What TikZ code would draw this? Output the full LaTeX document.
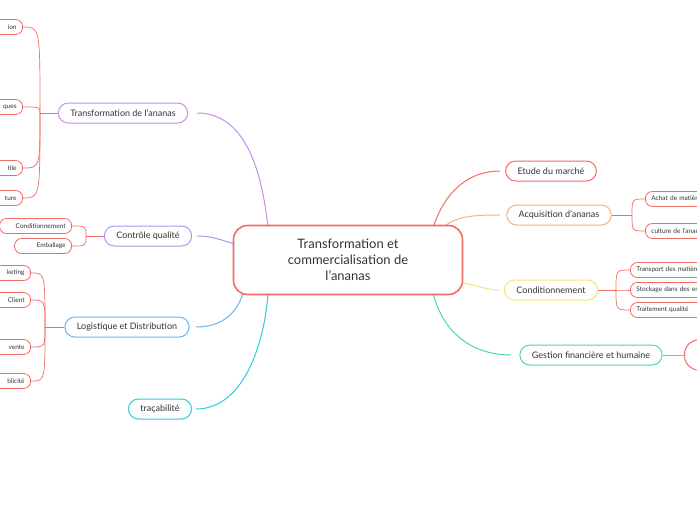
\documentclass[tikz,border=0pt]{standalone}
\usepackage{fontspec}
\setmainfont{Lato}
\usetikzlibrary{positioning}
\definecolor{cred}{HTML}{F26C64}
\definecolor{cpurple}{HTML}{C98EE8}
\definecolor{cviolet}{HTML}{A39AF5}
\definecolor{cblue}{HTML}{6AB4F0}
\definecolor{ccyan}{HTML}{2CCFD6}
\definecolor{corange}{HTML}{F9B07A}
\definecolor{cyellow}{HTML}{F3E57A}
\definecolor{cgreen}{HTML}{4DD9A6}
\definecolor{ctext}{HTML}{333333}
\tikzset{
  topic/.style={draw=#1, line width=1pt, rounded corners=10pt, fill=white, text=ctext,
    font=\fontsize{9}{10}\selectfont, minimum height=20pt, inner xsep=12pt},
  leafl/.style={draw=cred, line width=0.8pt, rounded corners=7pt, fill=white, text=ctext,
    font=\fontsize{6.5}{7}\selectfont, minimum height=15pt, anchor=east, text width=#1, align=right, inner xsep=6pt},
  leafr/.style={draw=cred, line width=0.8pt, rounded corners=7pt, fill=white, text=ctext,
    font=\fontsize{6.5}{7}\selectfont, minimum height=15pt, anchor=west, text width=#1, align=left, inner xsep=6pt},
  link/.style={draw=#1, line width=1pt},
  twig/.style={draw=cred, line width=0.7pt},
}
\begin{document}
\begin{tikzpicture}[x=1pt,y=-1pt]
  \useasboundingbox (0,0) rectangle (697,520);
  \clip (0,0) rectangle (697,520);
  \fill[white] (0,0) rectangle (697,520);

  % links first, nodes drawn on top
  \draw[link=cpurple] (197,113) .. controls (245,113) and (262,170) .. (268,228);
  \draw[link=cviolet] (197,236) .. controls (215,236) and (225,242) .. (236,244);
  \draw[link=cblue] (196,327) .. controls (225,327) and (238,310) .. (243,293);
  \draw[link=ccyan] (196,409) .. controls (245,409) and (265,340) .. (268,293);
  \draw[link=cred] (433,228) .. controls (445,190) and (470,171) .. (500,171);
  \draw[link=corange] (443,228) .. controls (455,215) and (480,215) .. (500,215);
  \draw[link=cyellow] (461,283) .. controls (478,285) and (485,290) .. (500,290);
  \draw[link=cgreen] (433,293) .. controls (445,340) and (480,355) .. (511,355);

  % centre
  \node[draw=cred, line width=1.6pt, rounded corners=14pt, fill=white, text=ctext,
    minimum width=229pt, minimum height=69pt, align=center,
    font=\fontsize{13}{16}\selectfont] (root) at (348,260)
    {Transformation et\\commercialisation de\\l'ananas};

  % right branches
  \node[topic=cred] (etude) at (551,171) {Etude du marché};
  \node[topic=corange] (acqu) at (559,215) {Acquisition d'ananas};
  \node[topic=cyellow] (cond) at (551,290) {Conditionnement};
  \node[topic=cgreen] (gest) at (591,355) {Gestion financière et humaine};
  \node[draw=cred, line width=1pt, rounded corners=14pt, minimum width=60pt, minimum height=30pt, anchor=west] (gestx) at (684,355) {};
  \draw[link=cgreen] (gest.east) -- (gestx.west);

  \node[leafr=80pt] (achat) at (645,199) {Achat de matière première};
  \node[leafr=80pt] (cult) at (645,231) {culture de l'ananas};
  \node[leafr=90pt] (trans) at (630,270) {Transport des matières};
  \node[leafr=90pt] (stock) at (630,290) {Stockage dans des entrepôts};
  \node[leafr=90pt] (trait) at (630,310) {Traitement qualité};

  % left branches
  \node[topic=cpurple] (tran) at (123,113) {Transformation de l'ananas};
  \node[topic=cviolet] (ctrl) at (148,236) {Contrôle qualité};
  \node[topic=cblue] (logi) at (127,327) {Logistique et Distribution};
  \node[topic=ccyan] (trac) at (160,409) {traçabilité};

  \node[leafl=60pt] (t1) at (23,27) {ion};
  \node[leafl=60pt] (t2) at (23,107) {ques};
  \node[leafl=60pt] (t3) at (23,168) {tile};
  \node[leafl=60pt] (t4) at (23,198) {ture};
  \node[leafl=60pt] (c1) at (72,226) {Conditionnement};
  \node[leafl=45pt] (c2) at (72,246) {Emballage};
  \node[leafl=60pt] (l1) at (31,273) {keting};
  \node[leafl=60pt] (l2) at (31,300) {Client};
  \node[leafl=60pt] (l3) at (31,347) {vente};
  \node[leafl=60pt] (l4) at (31,381) {blicité};

  % twigs
  \coordinate (th) at (40,113);
  \draw[twig] (tran.west) -- (th);
  \foreach \n in {t1,t2,t3,t4}
    \draw[twig] (th) .. controls (th |- \n.east) .. (\n.east);
  \coordinate (ch) at (86,236);
  \draw[twig] (ctrl.west) -- (ch);
  \foreach \n in {c1,c2}
    \draw[twig] (ch) .. controls (ch |- \n.east) .. (\n.east);
  \coordinate (lh) at (45,327);
  \draw[twig] (logi.west) -- (lh);
  \foreach \n in {l1,l2,l3,l4}
    \draw[twig] (lh) .. controls (lh |- \n.east) .. (\n.east);
  \coordinate (ah) at (632,215);
  \draw[twig] (acqu.east) -- (ah);
  \foreach \n in {achat,cult}
    \draw[twig] (ah) .. controls (ah |- \n.west) .. (\n.west);
  \coordinate (kh) at (616,290);
  \draw[twig] (cond.east) -- (kh);
  \foreach \n in {trans,stock,trait}
    \draw[twig] (kh) .. controls (kh |- \n.west) .. (\n.west);
\end{tikzpicture}
\end{document}
